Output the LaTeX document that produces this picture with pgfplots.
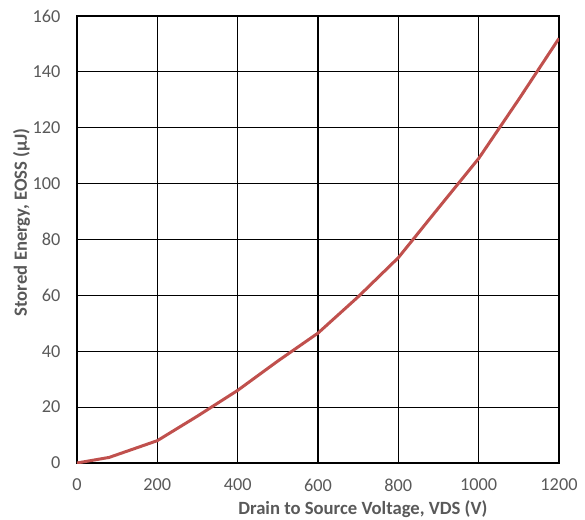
\documentclass[border=0pt]{standalone}
\usepackage{fontspec}
\setmainfont{Carlito}
\usepackage{pgfplots}
\pgfplotsset{compat=1.18}
\definecolor{linered}{HTML}{C0504D}
\definecolor{txtgray}{HTML}{595959}
\begin{document}
\begin{tikzpicture}
\begin{axis}[
  scale only axis,
  width=361.5pt, height=335.25pt,
  xmin=0, xmax=1200, ymin=0, ymax=160,
  xtick={0,200,...,1200}, ytick={0,20,...,160},
  major tick length=0pt,
  grid=major,
  major grid style={black, line width=0.8pt},
  axis line style={black, line width=1pt},
  /pgf/number format/assume math mode=true,
  /pgf/number format/1000 sep={},
  tick label style={font=\fontsize{13.7}{16}\selectfont, text=txtgray},
  xticklabel style={yshift=-8.25pt},
  yticklabel style={xshift=-9pt},
  xlabel={Drain to Source Voltage, VDS (V)},
  ylabel={Stored Energy, EOSS (μJ)},
  every axis x label/.style={at={(axis description cs:0.593,-0.103)}, anchor=center, font=\fontsize{14}{16}\selectfont\bfseries, text=txtgray},
  every axis y label/.style={at={(axis description cs:-0.115,0.538)}, anchor=center, rotate=90, font=\fontsize{14}{16}\selectfont\bfseries, text=txtgray},
]
\addplot[linered, line width=2.25pt, line join=round] coordinates {
(0,0) (80,2) (200,8) (300,16.8) (400,26) (500,36.5) (600,46.5) (700,59.5) (800,73.5) (900,91.3) (1000,109) (1100,130.2) (1200,152)
};
\end{axis}
\pgfresetboundingbox
\path[use as bounding box] (-57.75pt,-42pt) rectangle (381pt,347.25pt);
\end{tikzpicture}
\end{document}
